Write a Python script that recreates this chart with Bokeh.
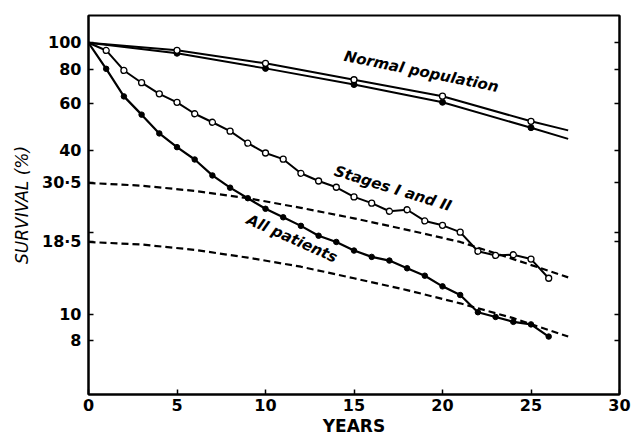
from bokeh.plotting import figure
from bokeh.models import Range1d, FixedTicker, LogAxis
from bokeh.embed import file_html
from bokeh.resources import INLINE
from bokeh.core.properties import value

# ---------------- data ----------------
years = list(range(0, 27))
all_patients = [100, 80.2, 63.5, 54.4, 46.4, 41.3, 37.2, 32.5, 29.3, 26.8, 24.5,
                22.8, 21.2, 19.5, 18.5, 17.2, 16.3, 15.8, 14.8, 13.9, 12.7,
                11.8, 10.2, 9.8, 9.4, 9.2, 8.3]
stages_1_2 = [100, 93.7, 79.1, 71.3, 64.9, 60.4, 54.8, 51.0, 47.3, 42.7, 39.3,
              37.3, 33.1, 31.0, 29.4, 27.1, 25.7, 24.0, 24.3, 22.1, 21.3,
              20.1, 17.1, 16.5, 16.6, 16.0, 13.6]

normal_years = [0, 5, 10, 15, 20, 25, 27.1]
normal_upper = [100, 93.8, 84.0, 73.1, 63.6, 51.4, 47.6]
normal_lower = [100, 91.5, 80.5, 70.2, 60.4, 48.7, 44.3]

dashed_years = [0, 3, 6, 9, 12, 15, 18, 21, 24, 27.1]
dashed_upper = [30.5, 29.8, 28.5, 26.8, 24.7, 22.6, 20.5, 18.5, 16.0, 13.7]
dashed_lower = [18.5, 18.1, 17.3, 16.2, 15.0, 13.6, 12.3, 11.0, 9.7, 8.3]

x_ticks = [0, 5, 10, 15, 20, 25, 30]
y_ticks = [8, 10, 18.5, 30.5, 40, 60, 80, 100]
y_tick_labels = ["8", "10", "18·5", "30·5", "40", "60", "80", "100"]
y_minor_ticks = [20]

annotations = ["Normal population", "Stages I and II", "All patients"]
ann_x = [18.8, 17.2, 11.5]
ann_y = [78.4, 29.1, 19.05]
ann_angle = [-0.20, -0.30, -0.42]

# ---------------- figure ----------------
p = figure(width=640, height=439, y_axis_type="log",
           x_range=Range1d(0, 30), y_range=Range1d(5.08, 126),
           output_backend="svg", toolbar_location=None,
           min_border_left=88, min_border_right=21,
           min_border_top=15, min_border_bottom=45)
p.grid.visible = False
p.outline_line_color = "black"
p.outline_line_width = 2
p.background_fill_color = "white"
p.border_fill_color = "white"

FONT = "DejaVu Sans"

def style_axis(ax):
    ax.axis_line_width = 2
    ax.axis_line_color = "black"
    ax.major_tick_in = 5
    ax.major_tick_out = 0
    ax.major_tick_line_width = 1.5
    ax.major_tick_line_color = "black"
    ax.minor_tick_in = 5
    ax.minor_tick_out = 0
    ax.minor_tick_line_width = 1.5
    ax.minor_tick_line_color = "black"
    ax.major_label_text_font = FONT
    ax.major_label_text_font_style = "bold"
    ax.major_label_text_font_size = "16px"
    ax.major_label_text_color = "black"
    ax.axis_label_text_font = FONT
    ax.axis_label_text_font_size = "17px"
    ax.axis_label_text_color = "black"

xa = p.xaxis[0]
style_axis(xa)
xa.ticker = FixedTicker(ticks=x_ticks)
xa.minor_tick_line_color = None
xa.major_label_standoff = 4
xa.axis_label = "YEARS"
xa.axis_label_text_font_style = "bold"
xa.axis_label_standoff = 2

ya = p.yaxis[0]
style_axis(ya)
ya.ticker = FixedTicker(ticks=y_ticks, minor_ticks=y_minor_ticks)
ya.major_label_overrides = {t: l for t, l in zip(y_ticks, y_tick_labels)}
ya.major_label_standoff = 7
ya.axis_label = "SURVIVAL (%)"
ya.axis_label_text_font_style = "italic"
ya.axis_label_standoff = 7

ra = LogAxis(ticker=FixedTicker(ticks=y_ticks, minor_ticks=y_minor_ticks))
style_axis(ra)
ra.major_label_text_color = None
ra.major_label_standoff = 0
p.add_layout(ra, "right")

# dashed reference curves
for d in (dashed_upper, dashed_lower):
    p.line(dashed_years, d, line_color="black", line_width=2.2, line_dash="7 4")

# normal population (two close lines)
p.line(normal_years, normal_upper, line_color="black", line_width=2)
p.line(normal_years, normal_lower, line_color="black", line_width=2)
p.scatter(normal_years[1:-1], normal_lower[1:-1], size=6, marker="circle",
          fill_color="black", line_color="black")
p.scatter(normal_years[1:-1], normal_upper[1:-1], size=6, marker="circle",
          fill_color="white", line_color="black", line_width=1.3)

# stages I and II (open circles)
p.line(years, stages_1_2, line_color="black", line_width=2)
p.scatter(years[1:], stages_1_2[1:], size=6, marker="circle",
          fill_color="white", line_color="black", line_width=1.3)

# all patients (filled circles)
p.line(years, all_patients, line_color="black", line_width=2.2)
p.scatter(years[1:], all_patients[1:], size=5.5, marker="circle",
          fill_color="black", line_color="black")

# curve labels
p.text(ann_x, ann_y, text=annotations, angle=ann_angle,
       text_font=value(FONT), text_font_style="bold italic",
       text_font_size="15px", text_align="center", text_baseline="middle",
       text_color="black")

open("out.html", "w").write(file_html(p, INLINE))
